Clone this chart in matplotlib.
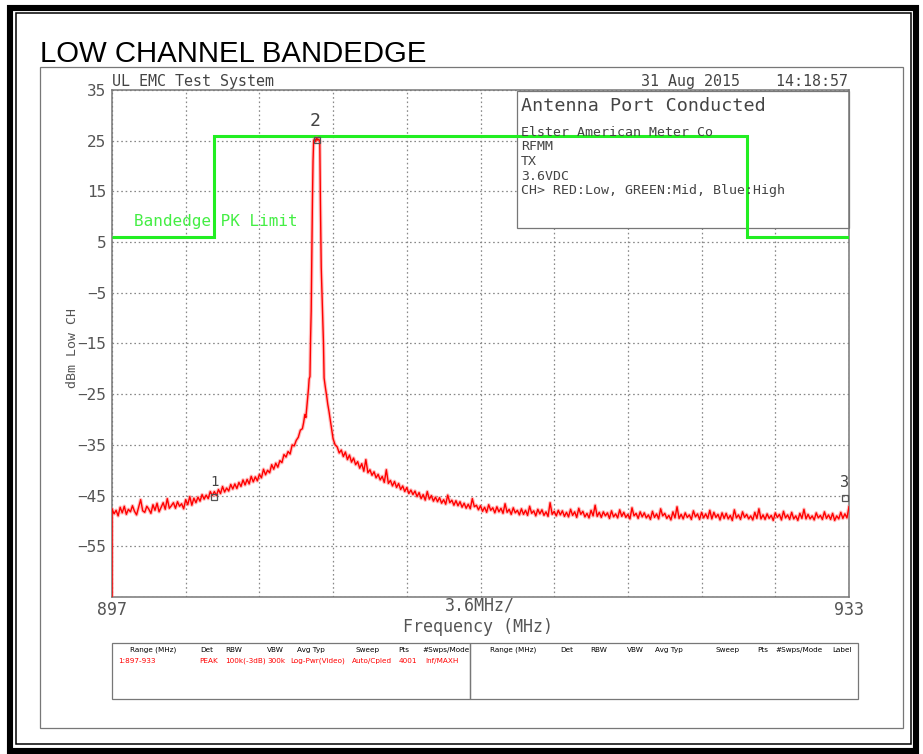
import numpy as np
import matplotlib
matplotlib.use("Agg")
import matplotlib.pyplot as plt
from matplotlib.patches import Rectangle
from matplotlib.transforms import Affine2D

# ---------------- data ----------------
title = "LOW CHANNEL BANDEDGE"
x_min, x_max = 897.0, 933.0
y_min, y_max = -65, 35
x_div = 3.6
y_tick_values = [-55, -45, -35, -25, -15, -5, 5, 15, 25, 35]

# limit line: edges (MHz) and levels (dBm)
limit_edges_mhz = [897.0, 902.0, 928.0, 933.0]
limit_dbm = [6.0, 26.0, 6.0]

# trace: starting point at the left edge (comes up from below the screen)
trace_start_mhz = 897.0
trace_start_dbm = -70.0

# trace, left noise floor 897.0 .. 906.2 MHz, 0.1 MHz spacing
floor_left_start = 897.0
floor_left_dbm = [
    -47.6, -48.6, -47.9, -49.0, -47.3, -48.4, -47.1, -48.7, -47.7, -48.2,
    -47.0, -48.1, -48.8, -47.3, -45.8, -48.0, -48.3, -47.1, -47.7, -48.5,
    -46.8, -47.9, -46.5, -48.2, -47.3, -46.4, -47.7, -45.6, -47.5, -47.0,
    -46.4, -47.5, -46.2, -47.1, -46.6, -47.6, -45.8, -46.8, -45.2, -46.9,
    -45.5, -46.4, -45.3, -46.1, -44.8, -45.7, -44.9, -45.6, -44.2, -45.0,
    -44.2, -45.0, -43.8, -44.6, -43.2, -44.3, -43.5, -44.1, -42.8, -43.7,
    -42.7, -43.6, -42.4, -43.2, -41.9, -42.9, -41.8, -42.7, -41.2, -42.3,
    -41.3, -42.1, -40.8, -41.5, -39.8, -40.9, -40.0, -40.5, -38.9, -39.8,
    -38.6, -39.4, -38.1, -38.5, -36.9, -37.4, -36.3, -36.8, -35.0, -35.2,
    -34.1, -33.5, -32.1,
]

# trace, carrier peak region
peak_mhz = [906.30, 906.36, 906.42, 906.47, 906.52, 906.56, 906.60, 906.63,
            906.67, 906.70, 906.73, 906.76, 906.79, 906.82, 906.85, 906.90,
            906.95, 907.00, 907.05, 907.10, 907.15, 907.18, 907.22, 907.28,
            907.33, 907.36, 907.42, 907.48, 907.54, 907.60, 907.66, 907.72]
peak_dbm = [-31.8, -30.6, -29.0, -29.6, -27.4, -25.6, -23.8, -22.0,
            -21.5, -14.0, -8.6, 2.0, 13.0, 21.0, 25.0, 25.4,
            24.8, 25.6, 25.1, 25.3, 24.9, 13.0, 0.0, -8.6,
            -15.0, -21.8, -23.6, -25.2, -27.0, -28.4, -30.0, -31.5]

# trace, right noise floor 907.8 .. 933.0 MHz, 0.1 MHz spacing
floor_right_start = 907.8
floor_right_dbm = [
    -33.8, -35.0,
    -35.4, -36.6, -36.0, -37.3, -36.4, -37.9, -37.0, -38.4, -37.6, -38.9,
    -38.3, -39.6, -38.7, -40.2, -37.9, -40.5, -39.9, -41.0, -40.3, -41.5,
    -40.8, -41.9, -41.2, -42.4, -39.9, -42.6, -42.0, -43.1, -42.2, -43.4,
    -42.6, -43.8, -43.1, -44.2, -43.4, -44.6, -43.9, -44.8, -44.1, -45.2,
    -44.4, -45.6, -44.8, -45.9, -44.2, -45.7, -45.0, -46.1, -45.3, -46.2,
    -45.4, -46.5, -45.8, -46.7, -44.9, -46.4, -45.9, -46.9, -46.0, -47.0,
    -46.2, -47.3, -46.5, -47.5, -46.7, -47.6, -45.6, -47.2, -46.9, -47.8,
    -47.0, -48.1, -47.3, -48.3, -46.8, -47.9, -47.4, -48.4, -47.2, -48.2,
    -47.5, -48.5, -46.6, -48.3, -47.7, -48.7, -47.4, -48.4, -47.9, -48.8,
    -47.6, -48.7, -47.9, -48.9, -47.1, -48.5, -48.0, -49.0, -47.7, -48.6,
    -47.8, -48.9, -48.2, -49.1, -46.4, -48.7, -48.1, -49.0, -47.9, -48.8,
    -48.0, -49.1, -48.3, -49.2, -47.7, -48.9, -48.2, -49.3, -47.5, -48.7,
    -48.1, -49.2, -48.5, -49.4, -47.9, -49.0, -46.9, -49.1, -48.3, -49.3,
    -48.2, -49.0, -48.4, -49.5, -48.0, -49.2, -48.6, -49.4, -47.8, -49.1,
    -48.3, -49.3, -48.7, -49.6, -47.4, -49.0, -48.5, -49.5, -48.2, -49.2,
    -48.4, -49.4, -48.8, -49.7, -48.1, -49.3, -48.6, -49.6, -47.6, -49.0,
    -48.5, -49.5, -48.9, -49.8, -48.2, -49.4, -47.2, -49.5, -48.7, -49.6,
    -48.4, -49.3, -48.8, -49.7, -48.0, -49.2, -48.6, -49.7, -48.3, -49.4,
    -48.6, -49.5, -47.9, -49.6, -48.3, -49.3, -48.7, -49.8, -48.4, -49.5,
    -48.5, -49.6, -48.9, -49.9, -47.8, -49.4, -48.8, -49.7, -48.2, -49.3,
    -48.7, -49.6, -49.0, -49.8, -48.3, -49.5, -47.6, -49.6, -48.8, -49.7,
    -48.6, -49.5, -48.9, -49.9, -48.4, -49.3, -48.7, -49.8, -48.1, -49.4,
    -48.8, -49.7, -48.3, -49.6, -49.0, -49.9, -48.5, -49.5, -47.7, -49.6,
    -48.7, -49.6, -49.0, -49.8, -48.4, -49.4, -48.9, -49.7, -48.2, -49.5,
    -48.8, -49.7, -48.5, -49.9, -49.0, -49.6, -48.3, -49.5, -48.6, -49.4,
    -47.2,
]
trace_step_mhz = 0.1

# markers
marker_labels = ["1", "2", "3"]
marker_mhz = [902.0, 907.0, 932.8]
marker_dbm = [-45.3, 25.1, -45.5]

header_left = "UL EMC Test System"
header_right = "31 Aug 2015    14:18:57"
box_title = "Antenna Port Conducted"
box_lines = ["Elster American Meter Co", "RFMM", "TX", "3.6VDC",
             "CH> RED:Low, GREEN:Mid, Blue:High"]
limit_label = "Bandedge PK Limit"
y_label = "dBm Low CH"
x_label = "Frequency (MHz)"
x_scale_label = "3.6MHz/"

table_headers = ["Range (MHz)", "Det", "RBW", "VBW", "Avg Typ", "Sweep",
                 "Pts", "#Swps/Mode"]
table_row1 = ["1:897-933", "PEAK", "100k(-3dB)", "300k", "Log-Pwr(Video)",
              "Auto/Cpled", "4001", "Inf/MAXH"]
table_headers2 = ["Range (MHz)", "Det", "RBW", "VBW", "Avg Typ", "Sweep",
                  "Pts", "#Swps/Mode", "Label"]

# ---------------- assemble trace ----------------
fl_f = np.round(floor_left_start + trace_step_mhz * np.arange(len(floor_left_dbm)), 3)
fr_f = np.round(floor_right_start + trace_step_mhz * np.arange(len(floor_right_dbm)), 3)
trace_f = np.concatenate([[trace_start_mhz], fl_f, peak_mhz, fr_f])
trace_v = np.concatenate([[trace_start_dbm], floor_left_dbm, peak_dbm, floor_right_dbm])

# ---------------- figure ----------------
W, H = 923, 754
fig = plt.figure(figsize=(W / 100, H / 100), dpi=100)
fig.patch.set_facecolor("white")
pix = Affine2D().scale(1 / W, -1 / H).translate(0, 1) + fig.transFigure

MONO = ["DejaVu Sans Mono"]
NARROW = ["Liberation Sans Narrow", "DejaVu Sans"]
TXT = "#444444"

# frames
fig.add_artist(Rectangle((10, 7.5), 906, 743, transform=pix, fill=False,
                         ec="black", lw=4.4))
fig.add_artist(Rectangle((15.5, 13), 895, 731, transform=pix, fill=False,
                         ec="black", lw=1.1))
fig.add_artist(Rectangle((40, 67), 863, 661, transform=pix, fill=False,
                         ec="#777777", lw=0.9))

fig.text(40, 62, title, transform=pix, family=["Liberation Sans", "DejaVu Sans"],
         fontsize=21.2, va="baseline", ha="left", color="black")

# axes
L, R, T, B = 112, 849, 90, 597
ax = fig.add_axes([L / W, 1 - B / H, (R - L) / W, (B - T) / H])
ax.set_xlim(x_min, x_max)
ax.set_ylim(y_min, y_max)
xt = np.linspace(x_min, x_max, int(round((x_max - x_min) / x_div)) + 1)
ax.set_xticks(xt)
ax.set_xticklabels([f"{x_min:.0f}"] + [""] * (len(xt) - 2) + [f"{x_max:.0f}"])
ax.set_yticks([y_min] + y_tick_values)
ax.set_yticklabels([""] + [str(v).replace("-", "\u2212") for v in y_tick_values])
for lab in ax.get_xticklabels():
    lab.set_family(MONO)
    lab.set_fontsize(12)
    lab.set_color("#555555")
for lab in ax.get_yticklabels():
    lab.set_family(MONO)
    lab.set_fontsize(11.5)
    lab.set_color("#555555")
ax.tick_params(axis="both", length=0)
ax.tick_params(axis="x", pad=3)
ax.tick_params(axis="y", pad=4)
ax.grid(True, color="#888888", linestyle=(0, (1.3, 2.2)), lw=0.9)
ax.set_axisbelow(True)
for s in ax.spines.values():
    s.set_color("#777777")
    s.set_linewidth(1.1)

# info box (white, covers grid)
bx0, by0, bx1, by1 = 517, 91, 849, 228
ax.add_patch(Rectangle(((bx0 - L) / (R - L), (B - by1) / (B - T)),
                       (bx1 - bx0) / (R - L), (by1 - by0) / (B - T),
                       transform=ax.transAxes, fc="white", ec="#777777",
                       lw=0.9, zorder=1.5, clip_on=False))
fig.text(521, 111, box_title, transform=pix, family=MONO, fontsize=13.2,
         color=TXT, va="baseline")
for line, yb in zip(box_lines, [136, 150, 165, 180, 194]):
    fig.text(521, yb, line, transform=pix, family=MONO, fontsize=9.5,
             color=TXT, va="baseline")

# limit line
ax.stairs(limit_dbm, limit_edges_mhz, baseline=None, color="#22ee22", lw=2.2,
          zorder=3)

# trace
ax.plot(trace_f, trace_v, color="#ff7070", lw=2.6, alpha=0.45, zorder=4)
ax.plot(trace_f, trace_v, color="#ff0000", lw=1.0, zorder=5)

# markers
ax.plot(marker_mhz, marker_dbm, ls="none", marker="s", ms=5, mfc="none",
        mec="#555555", mew=0.9, zorder=6, clip_on=False)
label_off = {"1": (0, 6), "2": (-1, 7), "3": (0, 6)}
label_size = {"1": 10, "2": 13, "3": 11}
for lab, f, v in zip(marker_labels, marker_mhz, marker_dbm):
    ax.annotate(lab, (f, v), xytext=label_off[lab], textcoords="offset points",
                ha="center", va="bottom", family=MONO, fontsize=label_size[lab],
                color="#444444", zorder=7, annotation_clip=False)

# limit label
fig.text(134, 226, limit_label, transform=pix, family=MONO, fontsize=11.5,
         color="#44ee44", va="baseline")

# header texts
fig.text(112, 86, header_left, transform=pix, family=MONO, fontsize=10.8,
         color=TXT, va="baseline")
fig.text(848, 86, header_right, transform=pix, family=MONO, fontsize=10.8,
         color=TXT, va="baseline", ha="right")

# axis labels
fig.text(480, 605, x_scale_label, transform=pix, family=MONO, fontsize=12,
         color="#555555", ha="center", va="center")
fig.text(478, 627, x_label, transform=pix, family=MONO, fontsize=12,
         color="#555555", ha="center", va="center")
fig.text(73, 348, y_label, transform=pix, family=MONO, fontsize=9.5,
         color="#555555", ha="center", va="center", rotation=90)

# bottom table
fig.add_artist(Rectangle((112, 643), 358, 56, transform=pix, fill=False,
                         ec="#777777", lw=0.9))
fig.add_artist(Rectangle((470, 643), 388, 56, transform=pix, fill=False,
                         ec="#777777", lw=0.9))
hdr_x1 = [130, 200, 225, 267, 297, 355, 398, 422]
row_x1 = [118, 199, 225, 267, 290, 352, 399, 425]
hdr_x2 = [490, 560, 590, 627, 655, 715, 757, 775, 832]
TS = 5.2
for t, x in zip(table_headers, hdr_x1):
    fig.text(x, 650, t, transform=pix, family=NARROW, fontsize=TS,
             color="black", ha="left", va="center")
for t, x in zip(table_row1, row_x1):
    fig.text(x, 661, t, transform=pix, family=NARROW, fontsize=TS,
             color="#ff0000", ha="left", va="center")
for t, x in zip(table_headers2, hdr_x2):
    fig.text(x, 650, t, transform=pix, family=NARROW, fontsize=TS,
             color="black", ha="left", va="center")

fig.savefig("out.png", dpi=100, facecolor="white")
